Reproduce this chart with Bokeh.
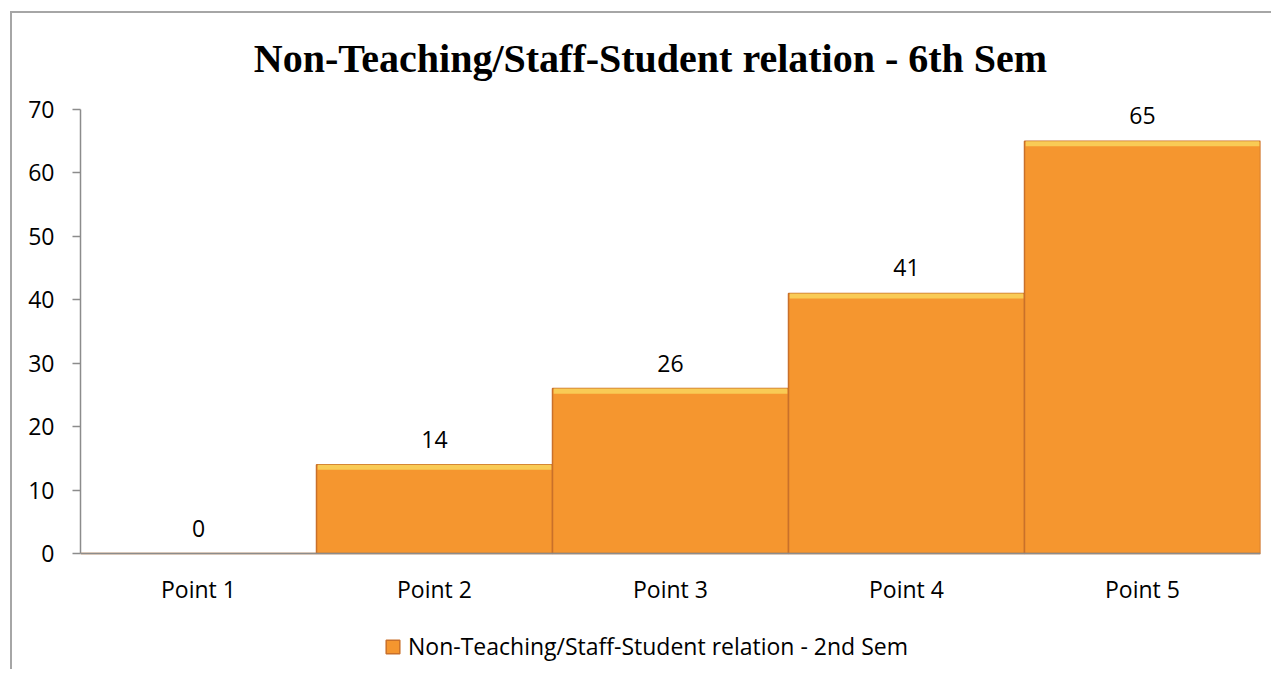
from bokeh.plotting import figure
from bokeh.models import Range1d, FactorRange, Legend, LegendItem, Label, ColumnDataSource
from bokeh.core.properties import value
from bokeh.embed import file_html
from bokeh.resources import INLINE

categories = ["Point 1", "Point 2", "Point 3", "Point 4", "Point 5"]
values = [0, 14, 26, 41, 65]
series_name = "Non-Teaching/Staff-Student relation - 2nd Sem"
title_text = "Non-Teaching/Staff-Student relation - 6th Sem"
y_ticks = [0, 10, 20, 30, 40, 50, 60, 70]

# layout (pixels)
W, H = 1261, 658
LEFT, RIGHT = 68, 13
PX_ABOVE_70 = 96        # frame top to the 70 gridline
VALUE_PX = 444          # pixels spanned by 0..70
PX_BELOW_0 = H - PX_ABOVE_70 - VALUE_PX
Y_MAX = 70
y_top = Y_MAX + Y_MAX * PX_ABOVE_70 / VALUE_PX
y_bottom = -Y_MAX * PX_BELOW_0 / VALUE_PX

src = ColumnDataSource(dict(
    x=categories,
    top=values,
    hl_bottom=[max(v - 0.8, 0) for v in values],
    label=[str(v) for v in values],
))

p = figure(
    width=W, height=H,
    x_range=FactorRange(*categories, range_padding=0),
    y_range=Range1d(y_bottom, y_top),
    output_backend="svg", toolbar_location=None,
    min_border_left=LEFT, min_border_right=RIGHT, min_border_top=0, min_border_bottom=0,
)
p.styles = {"border-top": "2px solid #a6a6a6", "border-left": "2px solid #a6a6a6",
            "margin-left": "10px", "margin-top": "11px"}
p.outline_line_color = None
p.background_fill_color = "white"
p.border_fill_color = "white"

title = Label(text=title_text, x=570, y=613, x_units="screen", y_units="screen",
              text_align="center", text_baseline="alphabetic",
              text_font="Liberation Serif", text_font_size="40px",
              text_font_style="bold", text_color="#000000")
p.add_layout(title)

bars = p.vbar(x="x", top="top", width=1.0, source=src,
              fill_color="#F5962F", line_color="#C9702A", line_width=1.5)
p.vbar(x="x", top="top", bottom="hl_bottom", width=0.99, source=src,
       fill_color="#F9CB55", line_color=None)

p.text(x="x", y="top", text="label", source=src, text_align="center",
       text_baseline="bottom", y_offset=-17, text_font=value("Open Sans"),
       text_font_size="23px", text_color="#000000")

p.xgrid.visible = False
p.ygrid.visible = False

p.yaxis.ticker = y_ticks
p.yaxis.bounds = (0, Y_MAX)
p.yaxis.axis_line_color = "#8c8c8c"
p.yaxis.axis_line_width = 1.5
p.yaxis.major_tick_line_color = "#8c8c8c"
p.yaxis.major_tick_line_width = 1.5
p.yaxis.major_tick_out = 8
p.yaxis.major_tick_in = 0
p.yaxis.minor_tick_line_color = None
p.yaxis.major_label_standoff = 18
p.yaxis.major_label_text_font = "Open Sans"
p.yaxis.major_label_text_font_size = "23px"
p.yaxis.major_label_text_color = "#000000"

p.xaxis.fixed_location = 0
p.xaxis.axis_line_color = "#8c8c8c"
p.xaxis.axis_line_width = 1.5
p.xaxis.major_tick_line_color = None
p.xaxis.minor_tick_line_color = None
p.xaxis.major_label_standoff = 13
p.xaxis.major_label_text_font = "Open Sans"
p.xaxis.major_label_text_font_size = "23px"
p.xaxis.major_label_text_color = "#000000"

legend = Legend(items=[LegendItem(label=series_name, renderers=[bars])],
                location=(304, 9), orientation="horizontal",
                label_text_font="Open Sans", label_text_font_size="23px",
                label_text_color="#000000", glyph_width=17, glyph_height=17,
                border_line_color=None, background_fill_alpha=0, padding=4, spacing=0,
                label_standoff=7, margin=0)
p.add_layout(legend, "center")

open("out.html", "w").write(file_html(p, INLINE))
